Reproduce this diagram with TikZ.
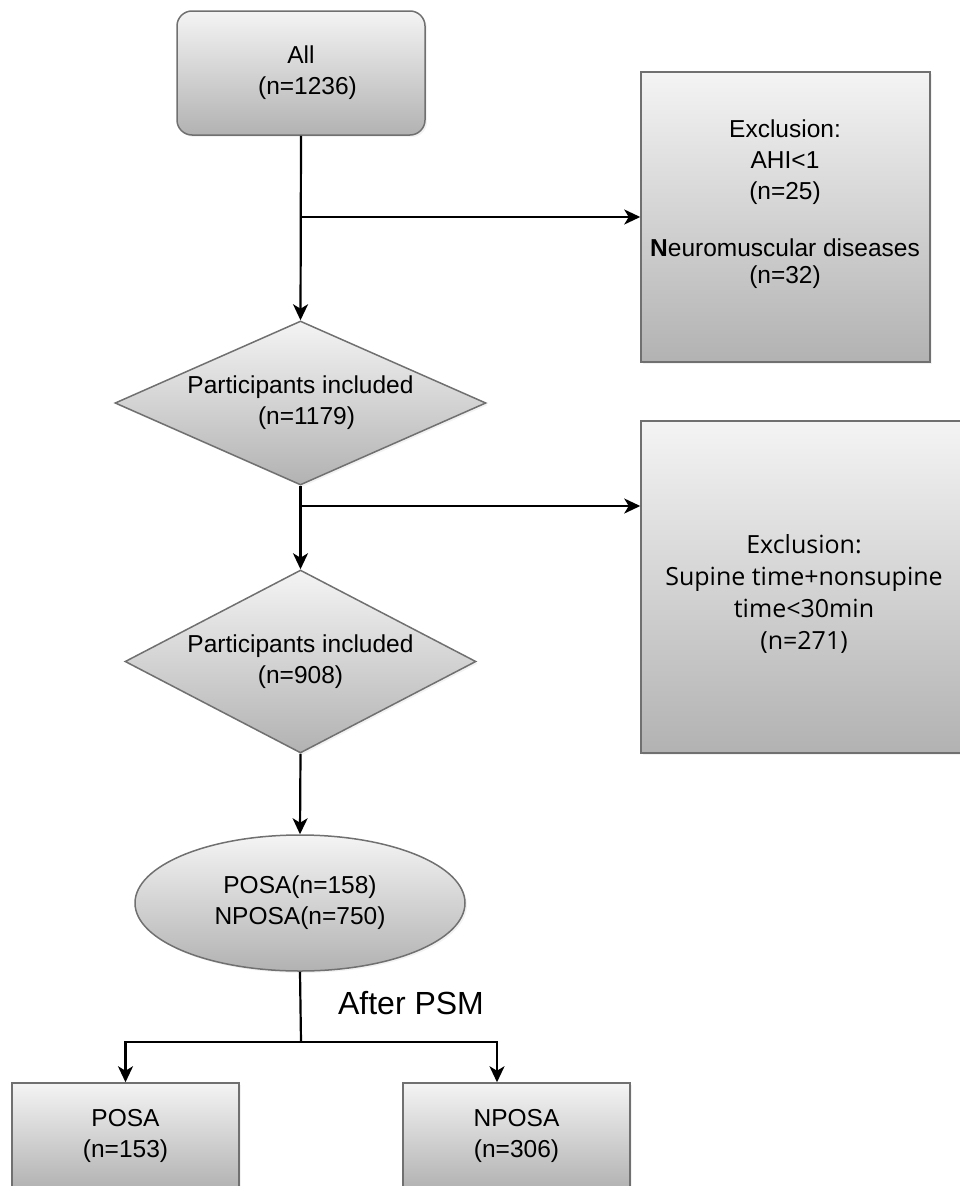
\documentclass[tikz,border=0pt]{standalone}
\usepackage{fontspec}
\setmainfont{Liberation Sans}
\newfontfamily\segoe{Open Sans}
\usetikzlibrary{shapes.geometric,arrows.meta,shadows}
\definecolor{gtop}{HTML}{F4F4F4}
\definecolor{gbot}{HTML}{B2B2B2}
\definecolor{edgegray}{HTML}{707070}
\begin{document}
\begin{tikzpicture}[x=1pt,y=-1pt,
  shadedshape/.style={draw=edgegray, line width=1.5pt, top color=gtop, bottom color=gbot,
    inner sep=0pt, align=center, font=\fontsize{24.5}{31}\selectfont,
    drop shadow={shadow xshift=2pt, shadow yshift=-2pt, opacity=0.10}},
  roundbox/.style={shadedshape, rectangle, rounded corners=15pt},
  plainbox/.style={shadedshape, rectangle},
  decision/.style={shadedshape, diamond},
  oval/.style={shadedshape, ellipse},
  txt/.style={inner sep=0pt, align=center, font=\fontsize{24.5}{31}\selectfont},
  conn/.style={line width=2.2pt, draw=black},
  arr/.style={conn, -{Stealth[length=16pt,width=15pt,inset=4.5pt]}}
]
\useasboundingbox (0,0) rectangle (959,1186);

% nodes
\node[roundbox, minimum width=248pt, minimum height=124pt] (all) at (301,73)
  {All\\\hspace*{13pt}(n=1236)};

\node[plainbox, minimum width=289pt, minimum height=290pt] (ex1) at (785.5,217) {};
\node[txt] (ex1t) at (785,204)
  {Exclusion:\\AHI<1\\(n=25)\\[26pt]\textbf{N}euromuscular diseases\\[-4pt](n=32)};

\node[decision, aspect=2.26, minimum width=371pt, minimum height=164pt] (d1) at (300.5,403)
  {Participants included\\\hspace*{12pt}(n=1179)};

\node[plainbox, minimum width=326pt, minimum height=332pt] (ex2) at (804,587) {};
\node[txt, font=\segoe\fontsize{25}{32}\selectfont] (ex2t) at (804,594)
  {Exclusion:\\Supine time+nonsupine\\time<30min\\(n=271)};

\node[decision, aspect=1.92, minimum width=351pt, minimum height=183pt] (d2) at (300.5,661.5)
  {Participants included\\(n=908)};

\node[oval, minimum width=330pt, minimum height=136pt] (ell) at (300,903)
  {POSA(n=158)\\NPOSA(n=750)};

\node[inner sep=0pt, font=\fontsize{32}{38}\selectfont] (psm) at (411,1003) {After PSM};

\node[plainbox, minimum width=227pt, minimum height=106pt] (posa) at (125.5,1136)
  {POSA\\(n=153)};
\node[plainbox, minimum width=227pt, minimum height=106pt] (nposa) at (516.5,1136)
  {NPOSA\\(n=306)};

% connectors
\coordinate (b1) at (all.south |- ex1.west);
\coordinate (b2) at (301,506);
\coordinate (split) at (301,1042);
\coordinate (nj) at (497,1042);

\draw[arr] (all.south) -- (d1.north);
\draw[arr] (b1) -- (ex1.west);
\draw[arr] (d1.south) -- (d2.north);
\draw[arr] (b2) -- (b2 -| ex2.west);
\draw[arr] (d2.south) -- (ell.north);
\draw[conn] (ell.south) -- (split);
\draw[arr] (split) -| (posa.north);
\draw[arr] (split) -- (nj) -- (nj |- nposa.north);
\end{tikzpicture}
\end{document}
